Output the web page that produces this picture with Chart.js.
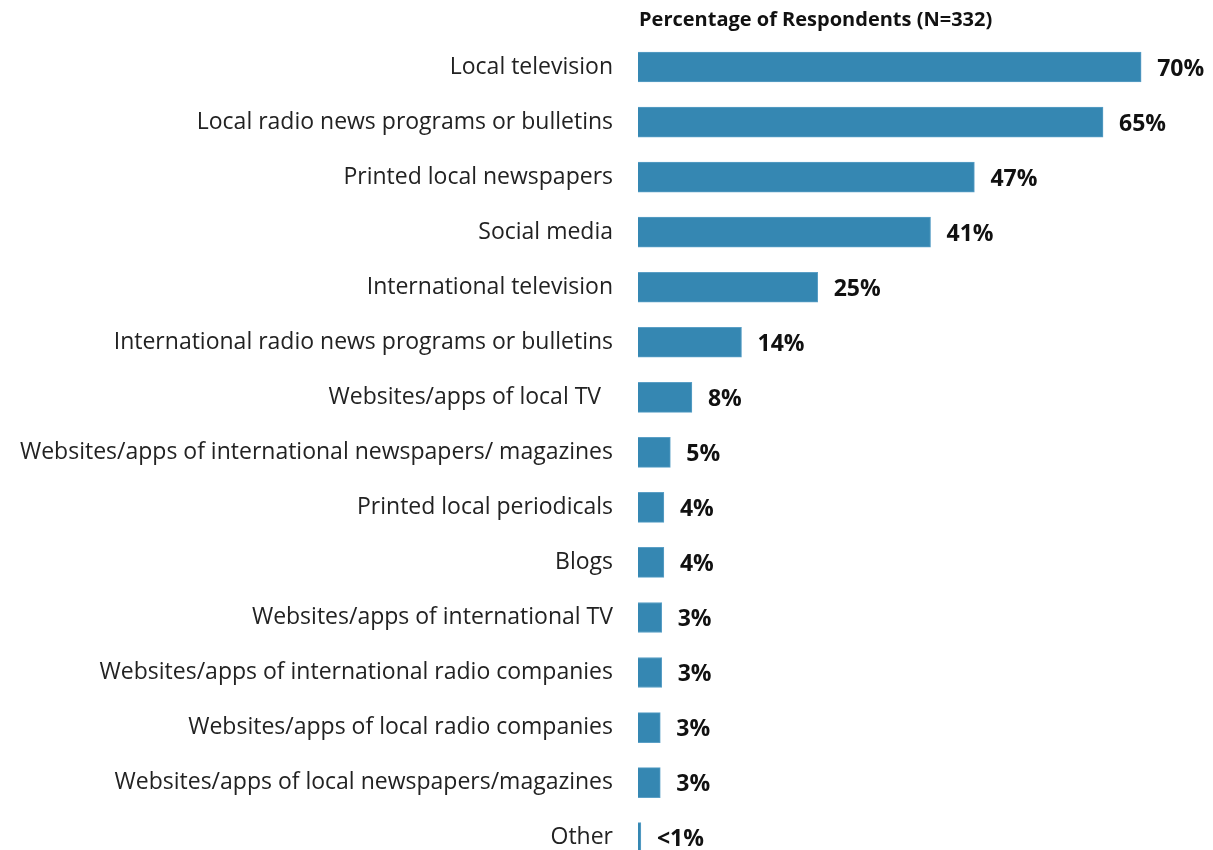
<!DOCTYPE html>
<html>
<head>
<meta charset="utf-8">
<script src="https://cdn.jsdelivr.net/npm/chart.js@4.4.1/dist/chart.umd.min.js"></script>
<style>
  html, body { margin: 0; padding: 0; background: #fff; overflow: hidden; }
</style>
</head>
<body>
<canvas id="myChart" width="1213" height="904"></canvas>
<script>
var categories = [
  'Local television',
  'Local radio news programs or bulletins',
  'Printed local newspapers',
  'Social media',
  'International television',
  'International radio news programs or bulletins',
  'Websites/apps of local TV  ',
  'Websites/apps of international newspapers/ magazines',
  'Printed local periodicals',
  'Blogs',
  'Websites/apps of international TV',
  'Websites/apps of international radio companies',
  'Websites/apps of local radio companies',
  'Websites/apps of local newspapers/magazines',
  'Other'
];
var values = [70, 64.7, 46.8, 40.7, 25, 14.4, 7.5, 4.5, 3.6, 3.6, 3.3, 3.3, 3.1, 3.1, 0.4];
var valueLabels = ['70%', '65%', '47%', '41%', '25%', '14%', '8%', '5%', '4%', '4%', '3%', '3%', '3%', '3%', '<1%'];
var chartTitle = 'Percentage of Respondents (N=332)';

var barLabels = {
  id: 'barLabels',
  afterDatasetsDraw: function(chart) {
    var ctx = chart.ctx;
    var meta = chart.getDatasetMeta(0);
    ctx.save();
    ctx.font = 'bold 23px "Open Sans"';
    ctx.fillStyle = '#111';
    ctx.textBaseline = 'middle';
    ctx.textAlign = 'left';
    meta.data.forEach(function(bar, i) {
      ctx.fillText(valueLabels[i], bar.x + 16, bar.y + 2);
    });
    // title above the bars, lined up with the bar start
    ctx.font = 'bold 20px "Open Sans"';
    ctx.fillText(chartTitle, chart.chartArea.left + 1, 20);
    ctx.restore();
  }
};

var ctx = document.getElementById('myChart');
var myChart = new Chart(ctx, {
  type: 'bar',
  data: {
    labels: categories,
    datasets: [{
      data: values,
      backgroundColor: '#3587b2',
      borderColor: '#5a9fc6',
      borderWidth: 1,
      barThickness: 30
    }]
  },
  options: {
    indexAxis: 'y',
    responsive: false,
    animation: false,
    layout: { padding: { top: 39.5, right: 0, bottom: 0, left: 0 } },
    plugins: {
      legend: { display: false },
      tooltip: { enabled: false }
    },
    scales: {
      x: {
        display: false,
        min: 0,
        max: 80
      },
      y: {
        grid: { display: false, drawTicks: false },
        border: { display: false },
        afterFit: function(scale) { scale.width = 638; },
        ticks: {
          color: '#222',
          padding: 25,
          font: { family: 'Open Sans', size: 23 }
        }
      }
    }
  },
  plugins: [barLabels]
});
</script>
</body>
</html>
